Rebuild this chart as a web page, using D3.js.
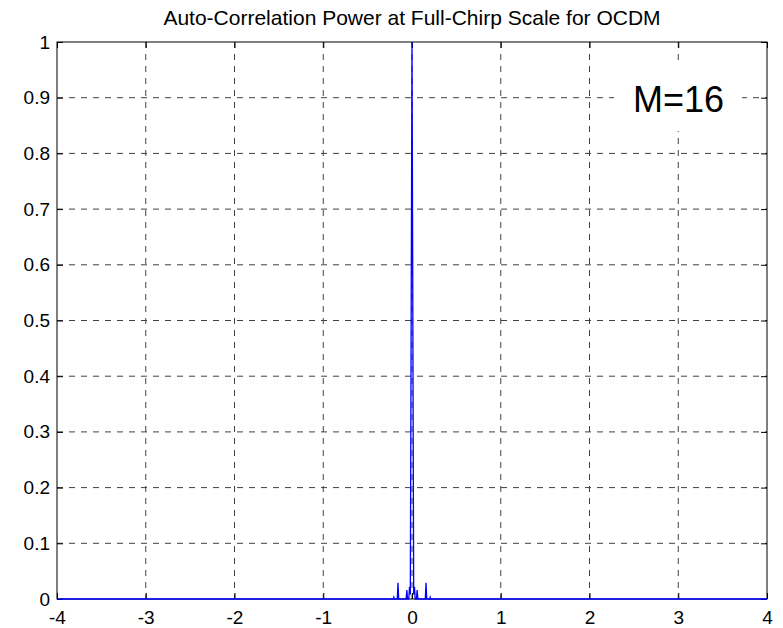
<!DOCTYPE html>
<meta charset="utf-8">
<body style="margin:0;background:#fff">
<script src="https://d3js.org/d3.v7.min.js"></script>
<svg></svg>
<script>
    var width = 783;
    var height = 628;

    // lag values (x) and correlation power (y)
    var lagX = [-4, -0.21, -0.205, -0.2, -0.166, -0.158, -0.150, -0.066, -0.058, -0.050,
                -0.036, -0.028, -0.019, 0, 0.019, 0.028, 0.036,
                0.050, 0.058, 0.066, 0.150, 0.158, 0.166, 0.2, 0.205, 0.21, 4];
    var power = [0, 0, 0.003, 0, 0, 0.029, 0, 0, 0.016, 0,
                 0, 0.022, 0.008, 1, 0.008, 0.022, 0,
                 0, 0.016, 0, 0, 0.029, 0, 0, 0.003, 0, 0];
    var xTicks = [-4, -3, -2, -1, 0, 1, 2, 3, 4];
    var yTicks = [0, 0.1, 0.2, 0.3, 0.4, 0.5, 0.6, 0.7, 0.8, 0.9, 1];

    var margin = {top: 42, right: 16, bottom: 29, left: 57};
    var w = width - margin.left - margin.right;
    var h = height - margin.top - margin.bottom;

    var svg = d3.select("svg")
        .attr("width", width)
        .attr("height", height)
        .style("display", "block")
        .style("font-family", "Arial, 'Liberation Sans', sans-serif");

    var g = svg.append("g").attr("transform", "translate(" + margin.left + "," + margin.top + ")");

    var x = d3.scaleLinear().domain([-4, 4]).range([0, w]);
    var y = d3.scaleLinear().domain([0, 1]).range([h, 0]);

    // grid
    g.selectAll(".vgrid").data(xTicks.slice(1, -1)).enter().append("line")
        .attr("x1", function(d){ return x(d); }).attr("x2", function(d){ return x(d); })
        .attr("y1", 0).attr("y2", h)
        .attr("stroke", "#404040").attr("stroke-dasharray", "6,6");
    g.selectAll(".hgrid").data(yTicks.slice(1, -1)).enter().append("line")
        .attr("x1", 0).attr("x2", w)
        .attr("y1", function(d){ return y(d); }).attr("y2", function(d){ return y(d); })
        .attr("stroke", "#404040").attr("stroke-dasharray", "6,6");

    // axes (ticks inside, on all four sides), plain hyphen for negatives
    var tl = 6;
    var fmt = function(d){ return String(d); };
    g.append("g").attr("transform", "translate(0," + h + ")")
        .call(d3.axisBottom(x).tickValues(xTicks).tickSizeInner(-tl).tickSizeOuter(0).tickPadding(12).tickFormat(fmt));
    g.append("g")
        .call(d3.axisTop(x).tickValues(xTicks).tickSizeInner(-tl).tickSizeOuter(0).tickFormat(""));
    g.append("g")
        .call(d3.axisLeft(y).tickValues(yTicks).tickSizeInner(-tl).tickSizeOuter(0).tickPadding(7).tickFormat(fmt));
    g.append("g").attr("transform", "translate(" + w + ",0)")
        .call(d3.axisRight(y).tickValues(yTicks).tickSizeInner(-tl).tickSizeOuter(0).tickFormat(""));

    g.selectAll(".domain").remove();
    g.selectAll(".tick line").attr("stroke", "#000");
    g.selectAll(".tick text").attr("fill", "#000").style("font-size", "19px")
        .style("font-family", "Arial, 'Liberation Sans', sans-serif");

    g.append("rect").attr("width", w).attr("height", h)
        .attr("fill", "none").attr("stroke", "#000").attr("stroke-width", 1);

    // correlation curve
    var pts = lagX.map(function(d, i){ return [d, power[i]]; });
    g.append("path").datum(pts)
        .attr("fill", "none").attr("stroke", "#0000ff").attr("stroke-width", 1.3)
        .attr("d", d3.line().x(function(d){ return x(d[0]); }).y(function(d){ return y(d[1]); }));

    // title and annotation (annotation sits on a white box over the grid)
    svg.append("text").attr("x", margin.left + w / 2).attr("y", 25)
        .attr("text-anchor", "middle").style("font-size", "21px")
        .text("Auto-Correlation Power at Full-Chirp Scale for OCDM");
    svg.append("rect").attr("x", 614).attr("y", 63).attr("width", 128).attr("height", 68)
        .attr("fill", "#fff");
    svg.append("text").attr("x", 633).attr("y", 112)
        .style("font-size", "36px")
        .text("M=16");
</script>
</body>
